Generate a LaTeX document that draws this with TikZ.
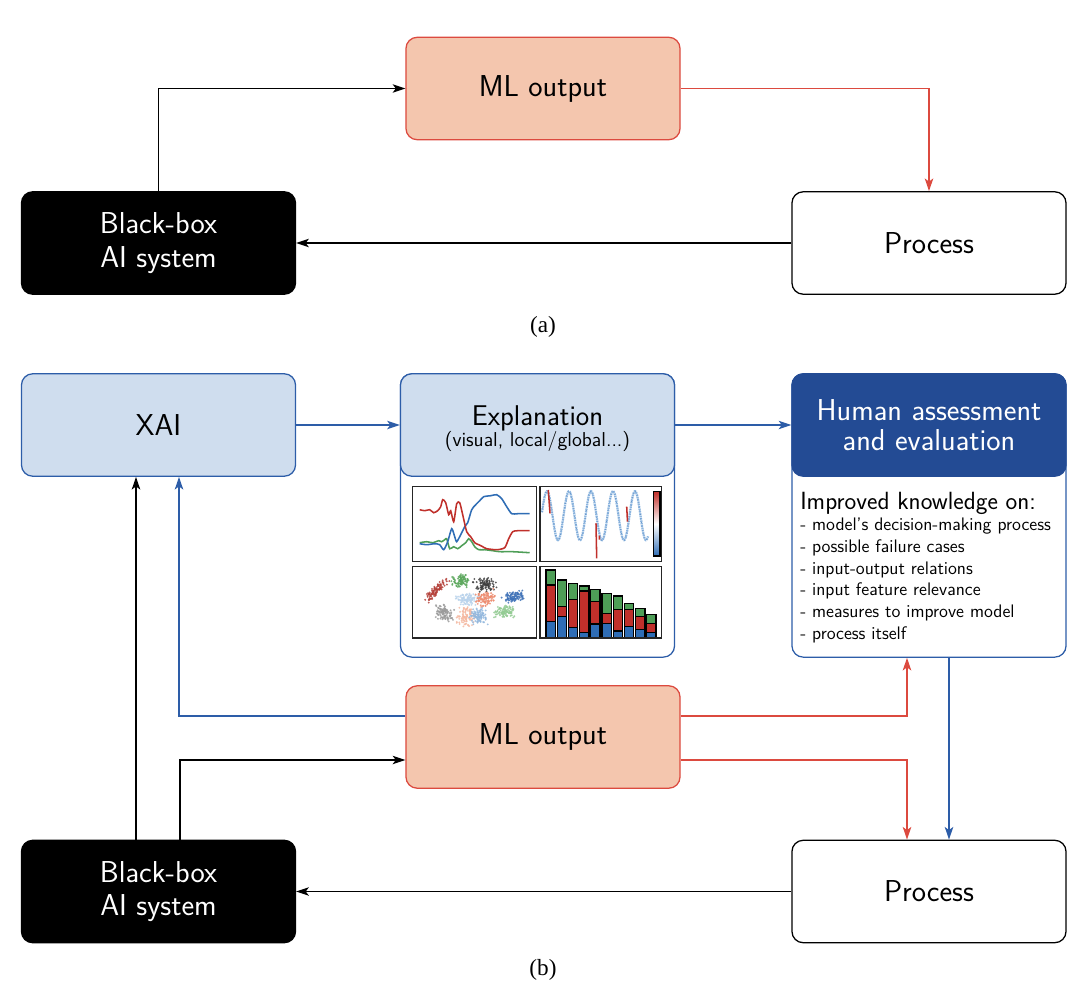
\documentclass[tikz,border=0pt]{standalone}
\usepackage{fontspec}
\setmainfont{Liberation Serif}
\usepackage{xcolor}
\usetikzlibrary{arrows.meta, positioning, calc}

\definecolor{mlFill}{HTML}{F4C6AE}
\definecolor{mlRed}{HTML}{DC4A3F}
\definecolor{xaiFill}{HTML}{CFDDEE}
\definecolor{xaiBlue}{HTML}{2D5DA8}
\definecolor{humanBlue}{HTML}{234B94}
\definecolor{plotRed}{HTML}{C0302B}
\definecolor{plotGreen}{HTML}{4E9E57}
\definecolor{plotBlue}{HTML}{2F6DB5}
\definecolor{sineBlue}{HTML}{8DB6E0}
\definecolor{scRed}{HTML}{B5413A}
\definecolor{scGreen}{HTML}{5DA85E}
\definecolor{scDark}{HTML}{404040}
\definecolor{scPale}{HTML}{B9D3EC}
\definecolor{scSalmon}{HTML}{EE8D70}
\definecolor{scBlue}{HTML}{3F72B8}
\definecolor{scGray}{HTML}{9B9B9B}
\definecolor{scLSalmon}{HTML}{F5B9A2}
\definecolor{scLBlue}{HTML}{93B8DE}
\definecolor{scLGreen}{HTML}{94CC94}

\begin{document}
\begin{tikzpicture}[x=0.025cm, y=-0.025cm,
  box/.style={rectangle, rounded corners=8pt, line width=0.9pt, minimum width=6.85cm, minimum height=2.56cm, align=center, font=\sffamily\fontsize{21.5}{24}\selectfont},
  mlBox/.style={box, draw=mlRed, fill=mlFill},
  blackBox/.style={box, draw=black, fill=black, text=white},
  processBox/.style={box, draw=black, fill=white},
  xaiBox/.style={box, draw=xaiBlue, fill=xaiFill},
  tallBox/.style={box, draw=xaiBlue, fill=white, minimum height=7.08cm},
  humanHead/.style={box, draw=humanBlue, fill=humanBlue, text=white, font=\sffamily\fontsize{21.5}{21.5}\selectfont},
  caption/.style={font=\fontsize{16.5}{18}\selectfont},
  arrow/.style={-{Stealth[length=9pt, width=6pt, inset=2.2pt]}, line width=1.1pt},
  blackArrow/.style={arrow, black},
  redArrow/.style={arrow, mlRed},
  blueArrow/.style={arrow, xaiBlue},
  panel/.style={draw=black!85, line width=1pt}
]
\useasboundingbox (0,0) rectangle (1080,1007);

% (a)
\node[mlBox] (mlA) at (543,88.5) {ML output};
\node[blackBox] (bbA) at (158.5,243) {Black-box\\AI system};
\node[processBox] (procA) at (929,243) {Process};
\node[caption] (capA) at (543,327) {(a)};
\draw[blackArrow] (bbA.north) |- (mlA.west);
\draw[redArrow] (mlA.east) -| (procA.north);
\draw[blackArrow] (procA.west) -- (bbA.east);

% (b)
\node[xaiBox] (xai) at (158.5,425) {XAI};
\node[tallBox] (expl) at (537.5,515.5) {};
\node[xaiBox] (explHead) at (537.5,425) {};
\node[align=center, font=\sffamily\fontsize{20.3}{22}\selectfont] (explText) at (537.5,429) {Explanation\\[-7pt]{\fontsize{14.3}{16}\selectfont (visual, local/global...)}};
\node[tallBox] (human) at (929,515.5) {};
\node[humanHead] (humanHead) at (929,425) {Human assessment\\and evaluation};
\node[anchor=base west, inner sep=0pt, font=\sffamily\fontsize{17.7}{20}\selectfont] (humanTitle) at (800,509) {Improved knowledge on:};
\node[anchor=north west, inner sep=0pt, align=left, font=\sffamily\fontsize{12.9}{15.4}\selectfont] (humanList) at (800,518) {- model's decision-making process\\- possible failure cases\\- input-output relations\\- input feature relevance\\- measures to improve model\\- process itself};
\node[mlBox] (mlB) at (543,737) {ML output};
\node[blackBox] (bbB) at (158.5,891.5) {Black-box\\AI system};
\node[processBox] (procB) at (929,891.5) {Process};
\node[caption] (capB) at (543,970) {(b)};

% explanation plots
\begin{scope}[shift={(412.7,486.7)}]
  \draw[plotGreen, line width=1.1pt] plot[smooth, tension=0.4] coordinates {(7,56) (14,55) (20,56) (26,54) (29,55) (32,53) (34,52) (37,62) (41,60) (45,62) (49,59) (53,56) (56,52) (59,55) (62,60) (66,63) (72,63) (80,64) (87,65) (100,65) (117,66)};
  \draw[plotBlue, line width=1.1pt] plot[smooth, tension=0.4] coordinates {(7,57) (14,58) (22,57) (27,58) (31,63) (35,55) (39,42) (42,50) (44,55) (48,48) (52,40) (55,36) (59,23) (63,18) (67,14) (71,10) (78,9) (84,8) (89,12) (94,20) (99,27) (105,27) (117,27)};
  \draw[plotRed, line width=1.1pt] plot[smooth, tension=0.4] coordinates {(7,23) (12,24) (17,23) (21,26) (25,24) (28,20) (30,13) (33,16) (36,28) (38,24) (41,35) (44,17) (47,16) (50,28) (54,45) (58,50) (62,56) (66,58) (70,60) (74,62) (84,63) (92,61) (96,52) (100,45) (105,44) (117,44)};
  \draw[panel] (0,0) rectangle (124,75);
\end{scope}
\begin{scope}[shift={(540,486.7)}]
  \draw[sineBlue, line width=1.6pt, dash pattern=on 1.2pt off 0.5pt] plot[domain=2:108, samples=200, smooth] (\x,{29-24.5*cos(16.3636*(\x-7))});
  \draw[plotBlue!70, line width=0.7pt, dash pattern=on 0.6pt off 2.2pt] plot[domain=2:108, samples=200, smooth] (\x,{29-24.5*cos(16.3636*(\x-7))});
  \draw[plotRed, line width=1.1pt] (8.3,3.3) -- (10,26.7);
  \draw[plotRed, line width=1.1pt] (56,36.7) -- (56.7,71.7);
  \draw[plotRed, line width=1.1pt] (86.7,20) -- (87.5,35);
  \draw[plotRed, line width=1.1pt] (59.3,49) -- (59.5,53);
  \shade[top color=plotRed, bottom color=plotBlue, middle color=white] (113.3,5) rectangle (120,69.3);
  \draw[black, line width=0.8pt] (113.3,5) rectangle (120,69.3);
  \draw[panel] (0,0) rectangle (121.7,75);
\end{scope}
\begin{scope}[shift={(412.7,566.7)}]
  \pgfmathsetseed{42}
  \foreach \cx/\cy/\sx/\sy/\ang/\col in {24/23/16/4.5/-45/scRed, 48/14/10/7/0/scGreen, 72/18/13/8/0/scDark, 54/32/13/7/0/scPale, 73/32/12/8/-15/scSalmon, 101/30/13/6/-10/scBlue, 32/46/10/9/0/scGray, 53/50/11/12/0/scLSalmon, 66/50/10/10/0/scLBlue, 92/45/12/7/0/scLGreen}{
    \foreach \k in {1,...,100}{
      \pgfmathsetmacro\u{(rand+rand)/2*\sx}
      \pgfmathsetmacro\v{(rand+rand)/2*\sy}
      \pgfmathsetmacro\px{\cx+\u*cos(\ang)-\v*sin(\ang)}
      \pgfmathsetmacro\py{\cy+\u*sin(\ang)+\v*cos(\ang)}
      \fill[\col, opacity=0.85] (\px,\py) circle (0.75pt);
    }
  }
  \draw[panel] (0,0) rectangle (124,71.3);
\end{scope}
\begin{scope}[shift={(540,566.7)}]
  \foreach \i/\t/\r/\b in {1/3.3/18.3/55, 2/13.3/40/50, 3/16.7/32.7/61, 4/19.3/24.3/66, 5/22.7/35/57.3, 6/26.7/46.7/56.7, 7/29.3/42.7/64.3, 8/36.7/42.7/60, 9/41.7/50/62.7, 10/47.7/56.7/66}{
    \pgfmathsetmacro\bx{6+(\i-1)*11.2}
    \draw[fill=plotBlue, line width=0.9pt] (\bx,\b) rectangle ++(9.3,70.7-\b);
    \draw[fill=plotRed, line width=0.9pt] (\bx,\r) rectangle ++(9.3,\b-\r);
    \draw[fill=plotGreen, line width=0.9pt] (\bx,\t) rectangle ++(9.3,\r-\t);
  }
  \draw[panel] (0,0) rectangle (121.7,71.3);
\end{scope}

% connectors (b)
\draw[blueArrow] (xai.east) -- (explHead.west);
\draw[blueArrow] (explHead.east) -- (humanHead.west);
\draw[blackArrow] ($(bbB.north)+(-22.5,0)$) -- ($(xai.south)+(-22.5,0)$);
\draw[blueArrow] ($(mlB.west)+(0,-21)$) -| ($(xai.south)+(20.5,0)$);
\draw[blackArrow] ($(bbB.north)+(21.5,0)$) |- ($(mlB.west)+(0,23)$);
\draw[redArrow] ($(mlB.east)+(0,-21)$) -| ($(human.south)+(-22,0)$);
\draw[redArrow] ($(mlB.east)+(0,23)$) -| ($(procB.north)+(-22,0)$);
\draw[blueArrow] ($(human.south)+(20,0)$) -- ($(procB.north)+(20,0)$);
\draw[blackArrow] (procB.west) -- (bbB.east);
\end{tikzpicture}
\end{document}
